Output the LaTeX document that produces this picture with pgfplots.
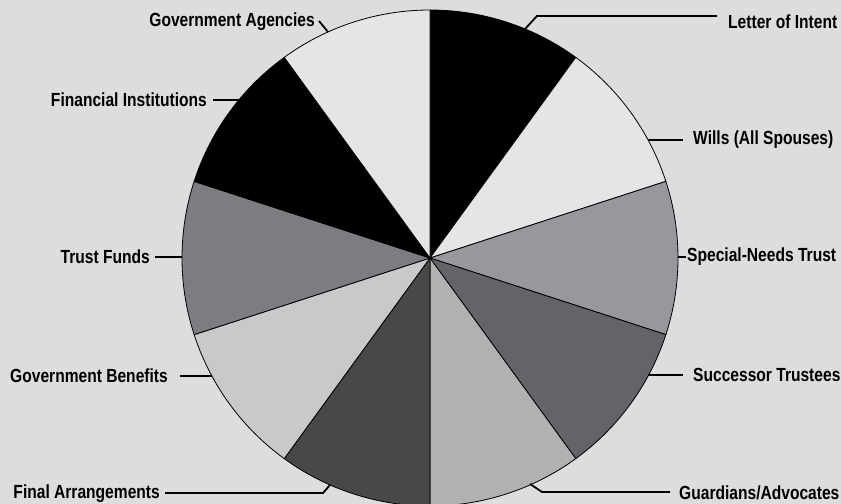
\documentclass[border=0pt]{standalone}
\usepackage{pgfplots}
\pgfplotsset{compat=1.18}
\usepackage{pgfplotstable}
\usepackage{fontspec}
\setmainfont{Liberation Sans}[FakeStretch=0.82]
\definecolor{bg}{HTML}{DCDDDF}
\definecolor{cBlack}{HTML}{000000}
\definecolor{cPale}{HTML}{E4E5E7}
\definecolor{cMid}{HTML}{97989B}
\definecolor{cDark}{HTML}{636467}
\definecolor{cLight}{HTML}{B0B1B3}
\definecolor{cDeep}{HTML}{48484A}
\definecolor{cSoft}{HTML}{C8C9CB}
\definecolor{cGrey}{HTML}{7C7D80}

% slices clockwise from 12 o'clock
\pgfplotstableread[col sep=comma]{
label,value,color
Letter of Intent,1,cBlack
Wills (All Spouses),1,cPale
Special-Needs Trust,1,cMid
Successor Trustees,1,cDark
Guardians/Advocates,1,cLight
Final Arrangements,1,cDeep
Government Benefits,1,cSoft
Trust Funds,1,cGrey
Financial Institutions,1,cBlack
Government Agencies,1,cPale
}\slices

\begin{document}
\begin{tikzpicture}
\fill[bg] (0,0) rectangle (841bp,504bp);
\begin{axis}[
    at={(430bp,246bp)}, anchor=origin,
    x=1bp, y=1bp,
    xmin=-430, xmax=411,
    ymin=-246, ymax=258,
    hide axis,
    clip=false,
]
\pgfplotstablegetrowsof{\slices}
\pgfmathtruncatemacro\nrows{\pgfplotsretval-1}
\def\total{0}
\pgfplotsforeachungrouped \i in {0,...,\nrows}{%
    \pgfplotstablegetelem{\i}{value}\of\slices
    \pgfmathsetmacro\total{\total+\pgfplotsretval}%
}
\def\cum{0}
\pgfplotsforeachungrouped \i in {0,...,\nrows}{%
    \pgfplotstablegetelem{\i}{value}\of\slices \let\v\pgfplotsretval
    \pgfplotstablegetelem{\i}{color}\of\slices \let\c\pgfplotsretval
    \pgfmathsetmacro\a{90-360*\cum/\total}%
    \pgfmathsetmacro\cum{\cum+\v}%
    \pgfmathsetmacro\b{90-360*\cum/\total}%
    \edef\tmp{\noexpand\filldraw[fill=\c, draw=black, line width=0.8bp]
        (axis cs:0,0) -- (axis cs:{248*cos(\a)},{248*sin(\a)})
        arc[start angle=\a, end angle=\b, radius=248bp] -- cycle;}%
    \tmp
}

\begin{scope}[every node/.style={font=\bfseries\fontsize{19bp}{20bp}\selectfont, inner sep=0pt}]
\draw[line width=1.8bp] (axis cs:-111,237) -- (axis cs:-102,226);
\node[anchor=east] at (axis cs:-115,236) {Government Agencies};
\draw[line width=1.8bp] (axis cs:-217,158) -- (axis cs:-191,158);
\node[anchor=east] at (axis cs:-223,158) {Financial Institutions};
\draw[line width=1.8bp] (axis cs:-275,1) -- (axis cs:-248,1);
\node[anchor=east] at (axis cs:-280,1) {Trust Funds};
\draw[line width=1.8bp] (axis cs:-250,-118) -- (axis cs:-218,-118);
\node[anchor=east] at (axis cs:-262,-118) {Government Benefits};
\draw[line width=1.8bp] (axis cs:-265,-235) -- (axis cs:-107,-235) -- (axis cs:-100,-227);
\node[anchor=east] at (axis cs:-270,-236) {Final Arrangements};
\draw[line width=1.8bp] (axis cs:95,229) -- (axis cs:107,242) -- (axis cs:287,242);
\node[anchor=west] at (axis cs:298,236) {Letter of Intent};
\draw[line width=1.8bp] (axis cs:218,118) -- (axis cs:253,118);
\node[anchor=west] at (axis cs:263,118) {Wills (All Spouses)};
\draw[line width=1.8bp] (axis cs:248,1) -- (axis cs:256,1);
\node[anchor=west] at (axis cs:257,1) {Special-Needs Trust};
\draw[line width=1.8bp] (axis cs:218,-117) -- (axis cs:253,-117);
\node[anchor=west] at (axis cs:263,-117) {Successor Trustees};
\draw[line width=1.8bp] (axis cs:100,-226) -- (axis cs:112,-234) -- (axis cs:240,-234);
\node[anchor=west] at (axis cs:249,-235) {Guardians/Advocates};
\end{scope}
\end{axis}
\pgfresetboundingbox
\useasboundingbox (0,0) rectangle (841bp,504bp);
\end{tikzpicture}
\end{document}
